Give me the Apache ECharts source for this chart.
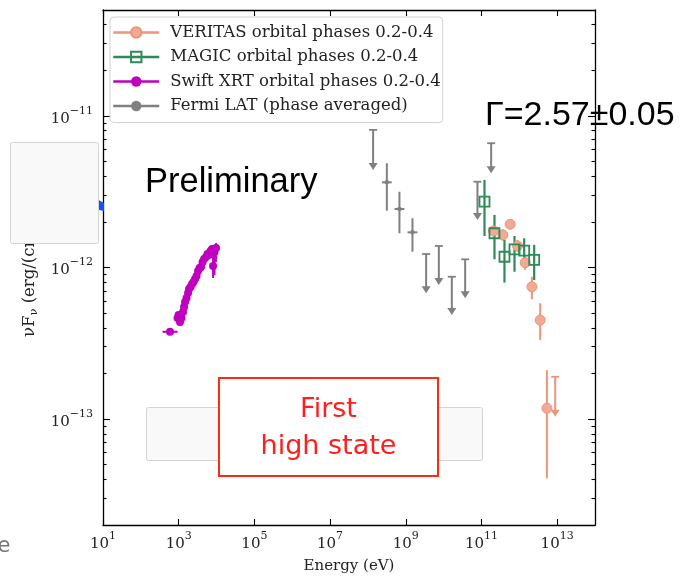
<!DOCTYPE html>
<html>
<head>
<meta charset="utf-8">
<script src="https://cdn.jsdelivr.net/npm/echarts@6/dist/echarts.min.js"></script>
<style>
  html, body { margin: 0; padding: 0; background: #fff; }
  #chart { width: 693px; height: 576px; }
</style>
</head>
<body>
<div id="chart"></div>
<script>
// Broadband SED. All values are log10: energy in eV, nuFnu in erg cm^-2 s^-1.

// Swift XRT, orbital phases 0.2-0.4
const swiftLogE = [2.771, 2.969, 2.996, 3.035, 3.075, 3.115, 3.141, 3.168, 3.207, 3.247, 3.273, 3.313, 3.353, 3.392, 3.432, 3.472, 3.511, 3.551, 3.591, 3.630, 3.670, 3.723, 3.762, 3.802, 3.842, 3.881, 3.908, 3.947, 3.987];
const swiftLogF = [-12.424, -12.333, -12.314, -12.360, -12.333, -12.294, -12.261, -12.228, -12.201, -12.168, -12.142, -12.129, -12.109, -12.096, -12.076, -12.056, -12.023, -12.003, -11.997, -11.964, -11.944, -11.931, -11.911, -11.917, -11.891, -11.878, -11.990, -11.898, -11.871];
const swiftLo = [-12.444, -12.355, -12.336, -12.382, -12.352, -12.316, -12.283, -12.250, -12.222, -12.190, -12.163, -12.151, -12.131, -12.118, -12.098, -12.079, -12.046, -12.026, -12.020, -11.988, -11.968, -11.956, -11.936, -11.942, -11.918, -11.905, -12.069, -12.050, -11.964];
const swiftHi = [-12.404, -12.311, -12.292, -12.338, -12.314, -12.272, -12.239, -12.206, -12.180, -12.146, -12.121, -12.107, -12.087, -12.074, -12.054, -12.033, -12.000, -11.980, -11.974, -11.940, -11.920, -11.906, -11.886, -11.892, -11.864, -11.851, -11.917, -11.851, -11.838];
const swiftXErr = [0.2, 0, 0, 0, 0, 0, 0, 0, 0, 0, 0, 0, 0, 0, 0, 0, 0, 0, 0, 0, 0, 0, 0, 0, 0, 0, 0, 0, 0];

// Fermi LAT, phase averaged: detections
const fermiLogE = [8.500, 8.833, 9.177];
const fermiLogF = [-11.438, -11.614, -11.768];
const fermiLo = [-11.625, -11.774, -11.896];
const fermiHi = [-11.312, -11.500, -11.675];
const fermiXErr = [0.13, 0.13, 0.13];
// Fermi LAT upper limits (value, and where the arrow ends)
const fermiUlLogE = [8.137, 9.538, 9.874, 10.217, 10.569, 10.894, 11.256];
const fermiUlLogF = [-11.092, -11.911, -11.858, -12.061, -11.946, -11.434, -11.180];
const fermiUlEnd = [-11.356, -12.170, -12.116, -12.314, -12.203, -11.686, -11.378];

// MAGIC, orbital phases 0.2-0.4
const magicLogE = [11.080, 11.344, 11.608, 11.873, 12.129, 12.393];
const magicLogF = [-11.566, -11.774, -11.929, -11.880, -11.889, -11.950];
const magicLo = [-11.792, -11.946, -12.100, -12.028, -11.990, -12.083];
const magicHi = [-11.422, -11.653, -11.818, -11.792, -11.807, -11.851];

// VERITAS, orbital phases 0.2-0.4
const veritasLogE = [11.318, 11.566, 11.759, 11.952, 12.155, 12.332, 12.552, 12.729];
const veritasLogF = [-11.759, -11.785, -11.715, -11.858, -11.968, -12.127, -12.347, -12.929];
const veritasLo = [-11.785, -11.823, -11.748, -11.896, -12.017, -12.210, -12.479, -13.391];
const veritasHi = [-11.731, -11.748, -11.686, -11.818, -11.929, -12.061, -12.236, -12.677];
const veritasUlLogE = [12.948];
const veritasUlLogF = [-12.721];
const veritasUlEnd = [-12.985];

// Axes
const xMin = 1, xMax = 14;
const yMin = Math.log10(2e-14), yMax = Math.log10(5e-11);
const xMajorTicks = [1, 3, 5, 7, 9, 11, 13];
const yMajorTicks = [-13, -12, -11];
const yMinorTicks = [];
for (let k = -14; k <= -11; k++) {
  for (let m = 2; m <= 9; m++) {
    const v = k + Math.log10(m);
    if (v > yMin && v < yMax) yMinorTicks.push(v);
  }
}

const legendNames = [
  'VERITAS orbital phases 0.2-0.4',
  'MAGIC orbital phases 0.2-0.4',
  'Swift XRT orbital phases 0.2-0.4',
  'Fermi LAT (phase averaged)'
];

const C_VERITAS = '#e9967a';
const C_MAGIC = '#2e8b57';
const C_SWIFT = '#bf00bf';
const C_FERMI = '#808080';

const SERIF = '"DejaVu Serif", serif';
const SANS = '"Liberation Sans", Arial, sans-serif';

const powRich = {
  b: { fontFamily: SERIF, fontSize: 15, color: '#222', lineHeight: 21, verticalAlign: 'bottom' },
  s: { fontFamily: SERIF, fontSize: 11, color: '#222', lineHeight: 12, verticalAlign: 'top' }
};
const powLabel = v => '{b|10}{s|' + String(Math.round(v)).replace('-', '\u2212') + '}';

const spine = { color: '#000', width: 1.3 };

function xAxisDef(pos, labels) {
  return {
    type: 'value', position: pos, min: xMin, max: xMax,
    splitLine: { show: false },
    axisLine: { show: true, onZero: false, lineStyle: spine },
    axisTick: { show: true, inside: true, length: 6, customValues: xMajorTicks, lineStyle: { color: '#000', width: 1.1 } },
    axisLabel: labels ? { show: true, customValues: xMajorTicks, formatter: powLabel, rich: powRich, margin: 6 } : { show: false },
    name: labels ? 'Energy (eV)' : '',
    nameLocation: 'middle', nameGap: 34,
    nameTextStyle: { fontFamily: SERIF, fontSize: 15, color: '#222' }
  };
}

function yAxisDef(pos, ticks, len, showLine, labels) {
  const ax = {
    type: 'value', position: pos, min: yMin, max: yMax,
    splitLine: { show: false },
    axisLine: { show: showLine, onZero: false, lineStyle: spine },
    axisTick: { show: true, inside: true, length: len, customValues: ticks, lineStyle: { color: '#000', width: 1.1 } },
    axisLabel: labels ? { show: true, customValues: yMajorTicks, formatter: powLabel, rich: powRich, margin: 10 } : { show: false }
  };
  if (labels) {
    ax.name = '{a|\u03bdF}{u|\u03bd}{a| (erg/(cm}{p|2}{a| s))}';
    ax.nameLocation = 'middle';
    ax.nameGap = 61;
    ax.nameTextStyle = {
      rich: {
        a: { fontFamily: SERIF, fontSize: 16.5, color: '#222', lineHeight: 20, verticalAlign: 'middle' },
        u: { fontFamily: SERIF, fontSize: 11.5, color: '#222', lineHeight: 11, verticalAlign: 'bottom' },
        p: { fontFamily: SERIF, fontSize: 11.5, color: '#222', lineHeight: 11, verticalAlign: 'top' }
      }
    };
  }
  return ax;
}

// Vertical (and optional horizontal) error bars
function errorBars(color, width) {
  return function (params, api) {
    const x = api.value(0), lo = api.value(1), hi = api.value(2), xe = api.value(3);
    const a = api.coord([x, lo]), b = api.coord([x, hi]);
    const children = [{
      type: 'line', shape: { x1: a[0], y1: a[1], x2: b[0], y2: b[1] },
      style: { stroke: color, lineWidth: width }
    }];
    if (xe > 0) {
      const y = api.value(4);
      const l = api.coord([x - xe, y]), r = api.coord([x + xe, y]);
      children.push({
        type: 'line', shape: { x1: l[0], y1: l[1], x2: r[0], y2: r[1] },
        style: { stroke: color, lineWidth: width }
      });
    }
    return { type: 'group', children };
  };
}

// Upper limits: cap at the value, line down to an arrow head
function upperLimits(color) {
  return function (params, api) {
    const x = api.value(0), v = api.value(1), e = api.value(2);
    const t = api.coord([x, v]), b = api.coord([x, e]);
    return {
      type: 'group',
      children: [
        { type: 'line', shape: { x1: t[0] - 4, y1: t[1], x2: t[0] + 4, y2: t[1] }, style: { stroke: color, lineWidth: 1.8 } },
        { type: 'line', shape: { x1: t[0], y1: t[1], x2: b[0], y2: b[1] - 4 }, style: { stroke: color, lineWidth: 2 } },
        { type: 'polygon', shape: { points: [[b[0] - 4.5, b[1] - 7], [b[0] + 4.5, b[1] - 7], [b[0], b[1]]] }, style: { fill: color } }
      ]
    };
  };
}

function zip(...arrs) { return arrs[0].map((_, i) => arrs.map(a => a[i])); }

function pointSeries(name, xs, ys, symbol, size, itemStyle, color) {
  return {
    name, type: 'line', data: zip(xs, ys),
    xAxisIndex: 0, yAxisIndex: 0,
    color,
    symbol, symbolSize: size, showSymbol: true,
    itemStyle,
    lineStyle: { width: 0, color },
    silent: true, animation: false, z: 4,
    emphasis: { disabled: true }
  };
}

function barSeries(name, data, fn) {
  return {
    name, type: 'custom', data, renderItem: fn,
    xAxisIndex: 0, yAxisIndex: 0, clip: true,
    silent: true, animation: false, z: 3
  };
}

const chart = echarts.init(document.getElementById('chart'), null, { renderer: 'canvas' });

chart.setOption({
  animation: false,
  backgroundColor: '#fff',
  grid: { left: 103, right: 98, top: 10, bottom: 51, containLabel: false, outerBoundsMode: 'none' },
  xAxis: [xAxisDef('bottom', true), xAxisDef('top', false)],
  yAxis: [
    yAxisDef('left', yMajorTicks, 7, true, true),
    yAxisDef('left', yMinorTicks, 3.5, false, false),
    yAxisDef('right', yMajorTicks, 7, true, false),
    yAxisDef('right', yMinorTicks, 3.5, false, false)
  ],
  legend: {
    orient: 'vertical', left: 110, top: 17,
    itemWidth: 46, itemHeight: 13, itemGap: 7.5,
    padding: [7, 2, 8, 2],
    backgroundColor: 'rgba(255,255,255,0.85)',
    borderColor: '#d2d2d2', borderWidth: 1, borderRadius: 4,
    textStyle: { fontFamily: SERIF, fontSize: 16.5, color: '#222', padding: [0, 0, 0, 6] },
    selectedMode: false,
    data: legendNames.map(n => ({ name: n, lineStyle: { width: 2.5, opacity: 1 } }))
  },
  series: [
    pointSeries(legendNames[0], veritasLogE, veritasLogF, 'circle', 10,
      { color: '#f2aa92', borderColor: C_VERITAS, borderWidth: 1 }, C_VERITAS),
    pointSeries(legendNames[1], magicLogE, magicLogF, 'rect', 10,
      { color: 'rgba(255,255,255,0)', borderColor: C_MAGIC, borderWidth: 1.8 }, C_MAGIC),
    pointSeries(legendNames[2], swiftLogE, swiftLogF, 'circle', 8,
      { color: C_SWIFT }, C_SWIFT),
    pointSeries(legendNames[3], fermiLogE, fermiLogF, 'circle', 4.5,
      { color: C_FERMI }, C_FERMI),

    barSeries(legendNames[0], zip(veritasLogE, veritasLo, veritasHi, veritasLogE.map(() => 0), veritasLogF), errorBars(C_VERITAS, 2)),
    barSeries(legendNames[0], zip(veritasUlLogE, veritasUlLogF, veritasUlEnd), upperLimits(C_VERITAS)),
    barSeries(legendNames[1], zip(magicLogE, magicLo, magicHi, magicLogE.map(() => 0), magicLogF), errorBars(C_MAGIC, 2.2)),
    barSeries(legendNames[2], zip(swiftLogE, swiftLo, swiftHi, swiftXErr, swiftLogF), errorBars(C_SWIFT, 2)),
    barSeries(legendNames[3], zip(fermiLogE, fermiLo, fermiHi, fermiXErr, fermiLogF), errorBars(C_FERMI, 2)),
    barSeries(legendNames[3], zip(fermiUlLogE, fermiUlLogF, fermiUlEnd), upperLimits(C_FERMI))
  ],
  graphic: [
    { type: 'text', left: 145, top: 165, z: 50,
      style: { text: 'Preliminary', fontFamily: SANS, fontSize: 34.5, fill: '#000' } },
    { type: 'text', left: 485, top: 99, z: 50,
      style: { text: '\u0393=2.57\u00b10.05', fontFamily: SANS, fontSize: 34, fill: '#000' } },
    { type: 'polygon', z: 60,
      shape: { points: [[97, 199], [104, 203], [104, 211], [99, 210]] }, style: { fill: '#1a4dff' } },
    { type: 'rect', z: 70,
      shape: { x: 10.5, y: 142.5, width: 88, height: 101, r: 2 },
      style: { fill: '#f9f9f9', stroke: '#d4d4d4', lineWidth: 1 } },
    { type: 'rect', z: 70,
      shape: { x: 146.5, y: 407.5, width: 336, height: 53, r: 2 },
      style: { fill: '#f9f9f9', stroke: '#d4d4d4', lineWidth: 1 } },
    { type: 'rect', z: 80,
      shape: { x: 219, y: 378, width: 219, height: 98 },
      style: { fill: '#fff', stroke: '#ff2a14', lineWidth: 2 } },
    { type: 'text', x: 328.5, y: 410, z: 81,
      style: { text: 'First', align: 'center', verticalAlign: 'middle', fontFamily: '"DejaVu Sans", sans-serif', fontSize: 27, fill: '#ff1e1e' } },
    { type: 'text', x: 328.5, y: 447, z: 81,
      style: { text: 'high state', align: 'center', verticalAlign: 'middle', fontFamily: '"DejaVu Sans", sans-serif', fontSize: 27, fill: '#ff1e1e' } },
    { type: 'text', x: -14, y: 547, z: 50,
      style: { text: 'ce', verticalAlign: 'middle', fontFamily: '"DejaVu Sans", sans-serif', fontSize: 21, fill: '#777' } }
  ]
});
</script>
</body>
</html>
